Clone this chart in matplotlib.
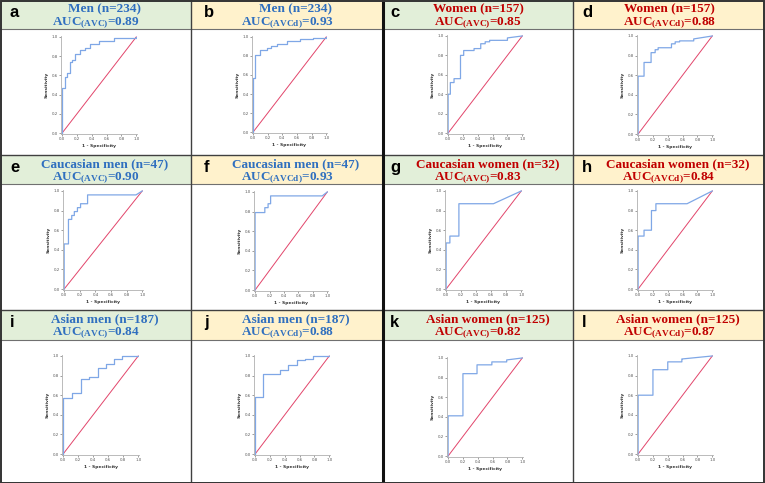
import matplotlib
matplotlib.use('Agg')
import matplotlib.pyplot as plt
from matplotlib.patches import Rectangle

plt.rcParams['mathtext.fontset'] = 'custom'
plt.rcParams['mathtext.rm'] = 'Liberation Serif'
plt.rcParams['mathtext.bf'] = 'Liberation Serif:bold'
plt.rcParams['mathtext.it'] = 'Liberation Serif:italic'

W, H = 765, 483

# ---------------- data ----------------
letters = list('abcdefghijkl')
titles = ['Men (n=234)', 'Men (n=234)', 'Women (n=157)', 'Women (n=157)',
          'Caucasian men (n=47)', 'Caucasian men (n=47)',
          'Caucasian women (n=32)', 'Caucasian women (n=32)',
          'Asian men (n=187)', 'Asian men (n=187)',
          'Asian women (n=125)', 'Asian women (n=125)']
metrics = ['AVC', 'AVCd'] * 6
aucs = [0.89, 0.93, 0.85, 0.88, 0.90, 0.93, 0.83, 0.84, 0.84, 0.88, 0.82, 0.87]
is_women = [False, False, True, True, False, False, True, True, False, False, True, True]

# ROC step points: at each false-positive rate, sensitivity rises to the given value
fpr_a = [0, 0.035, 0.06, 0.10, 0.13, 0.18, 0.24, 0.31, 0.38, 0.50, 0.70, 1.0]
tpr_a = [0.47, 0.58, 0.63, 0.74, 0.76, 0.82, 0.86, 0.89, 0.93, 0.96, 0.99, 1.0]
fpr_b = [0, 0.027, 0.09, 0.19, 0.24, 0.32, 0.46, 0.64, 0.82, 1.0]
tpr_b = [0.57, 0.81, 0.86, 0.88, 0.90, 0.93, 0.96, 0.98, 0.99, 1.0]
fpr_c = [0, 0.03, 0.08, 0.167, 0.21, 0.35, 0.44, 0.50, 0.56, 0.80]
tpr_c = [0.40, 0.52, 0.56, 0.80, 0.85, 0.87, 0.92, 0.94, 0.955, 0.98]
fpr_d = [0, 0.08, 0.175, 0.23, 0.27, 0.45, 0.50, 0.56, 0.75]
tpr_d = [0.59, 0.73, 0.83, 0.86, 0.88, 0.92, 0.94, 0.95, 0.97]
fpr_e = [0, 0.055, 0.097, 0.13, 0.17, 0.21, 0.30, 0.92]
tpr_e = [0.46, 0.71, 0.75, 0.79, 0.83, 0.87, 0.96, 0.96]
fpr_f = [0, 0.135, 0.18, 0.215, 0.93]
tpr_f = [0.79, 0.84, 0.88, 0.96, 0.96]
fpr_g = [0, 0.05, 0.17, 0.63]
tpr_g = [0.47, 0.54, 0.87, 0.87]
fpr_h = [0, 0.08, 0.18, 0.24, 0.66]
tpr_h = [0.54, 0.60, 0.80, 0.87, 0.87]
fpr_i = [0, 0.12, 0.24, 0.34, 0.46, 0.57, 0.68, 0.78]
tpr_i = [0.57, 0.62, 0.77, 0.79, 0.88, 0.92, 0.97, 1.0]
fpr_j = [0, 0.11, 0.33, 0.45, 0.56, 0.67, 0.78]
tpr_j = [0.58, 0.82, 0.86, 0.91, 0.96, 0.97, 1.0]
fpr_k = [0, 0.20, 0.39, 0.59, 0.79]
tpr_k = [0.41, 0.84, 0.93, 0.96, 0.98]
fpr_l = [0, 0.20, 0.40, 0.59, 0.60]
tpr_l = [0.60, 0.86, 0.94, 0.97, 0.97]

fprs = [fpr_a, fpr_b, fpr_c, fpr_d, fpr_e, fpr_f, fpr_g, fpr_h, fpr_i, fpr_j, fpr_k, fpr_l]
tprs = [tpr_a, tpr_b, tpr_c, tpr_d, tpr_e, tpr_f, tpr_g, tpr_h, tpr_i, tpr_j, tpr_k, tpr_l]
ticks = [0.0, 0.2, 0.4, 0.6, 0.8, 1.0]
tick_labels = ['0.0', '0.2', '0.4', '0.6', '0.8', '1.0']

# ---------------- layout ----------------
col_edges = [0, 191, 383, 573, 765]
head_top = [0, 155, 310]
head_bot = [29, 184, 340]
row_bot = [155, 310, 483]
letter_dx = [10, 13, 7, 9]
title_dx = [9, 9, 0, 0, 9, 9, 10, 9, 9, 9, 10, 9]
# inner ROC axes boxes in pixels (left, right, top, bottom)
boxes = [(61, 137, 36, 134), (252, 327, 36, 133), (447, 523, 35, 134), (637, 713, 35, 135),
         (63, 143, 190, 290), (254, 328, 191, 291), (445, 522, 190, 290), (637, 713, 190, 290),
         (62, 139, 355, 455), (254, 330, 355, 455), (447, 523, 357, 457), (637, 713, 355, 455)]

GREEN = '#e2efd9'
YELLOW = '#fff2cc'
BLUE = '#2f6fbf'
RED = '#c00000'
CURVE = '#7fa7e6'
DIAG = '#e2456b'

fig = plt.figure(figsize=(W / 100, H / 100), dpi=100)
fig.patch.set_facecolor('white')
bg = fig.add_axes([0, 0, 1, 1])
bg.set_xlim(0, W)
bg.set_ylim(H, 0)
bg.axis('off')

for r in range(3):
    for c in range(4):
        x0, x1 = col_edges[c], col_edges[c + 1]
        bg.add_patch(Rectangle((x0, head_top[r]), x1 - x0, head_bot[r] - head_top[r],
                               facecolor=GREEN if c % 2 == 0 else YELLOW, edgecolor='none', zorder=1))
        idx = r * 4 + c
        cx = (x0 + x1) / 2
        col = RED if is_women[idx] else BLUE
        bg.text(cx + title_dx[idx], head_top[r] + 9.5, titles[idx], ha='center', va='center',
                fontsize=9.5, fontweight='bold', family='Liberation Serif', color=col, zorder=3)
        bg.text(cx, head_top[r] + 23,
                'AUC$_{\\mathbf{(' + metrics[idx] + ')}}$=' + f'{aucs[idx]:.2f}',
                ha='center', va='center', fontsize=9.5, fontweight='bold',
                family='Liberation Serif', color=col, zorder=3)
        bg.text(x0 + letter_dx[c], head_top[r] + 17, letters[idx], ha='left', va='baseline',
                fontsize=12, fontweight='bold', family='Liberation Sans', color='black', zorder=3)
    bg.plot([0, W], [head_bot[r], head_bot[r]], color='#707070', lw=0.8, zorder=2)
    bg.plot([0, W], [row_bot[r], row_bot[r]], color='#404040', lw=1.0, zorder=2)

for x in [191, 573]:
    bg.plot([x, x], [0, H], color='#404040', lw=1.0, zorder=2)
bg.plot([383, 383], [0, H], color='#111111', lw=2.2, zorder=2)
bg.add_patch(Rectangle((0.5, 0.5), W - 1, H - 1, facecolor='none', edgecolor='#333333', lw=1.4, zorder=4))


def staircase(f, t):
    xs, ys, cur = [0.0], [0.0], 0.0
    for fi, ti in zip(f, t):
        xs += [fi, fi]
        ys += [cur, ti]
        cur = ti
    xs.append(1.0)
    ys.append(1.0)
    return xs, ys


for idx in range(12):
    l, rgt, t, b = boxes[idx]
    ax = fig.add_axes([l / W, 1 - b / H, (rgt - l) / W, (b - t) / H])
    ax.set_facecolor('white')
    ax.plot([0, 1], [0, 1], color=DIAG, lw=0.7)
    xs, ys = staircase(fprs[idx], tprs[idx])
    ax.plot(xs, ys, color=CURVE, lw=0.9)
    ax.set_xlim(-0.015, 1.01)
    ax.set_ylim(-0.01, 1.01)
    ax.set_xticks(ticks)
    ax.set_xticklabels(tick_labels)
    ax.set_yticks(ticks)
    ax.set_yticklabels(tick_labels)
    ax.tick_params(labelsize=2.8, length=1.2, width=0.4, pad=1.2, colors='#555555')
    for s in ['top', 'right']:
        ax.spines[s].set_visible(False)
    for s in ['left', 'bottom']:
        ax.spines[s].set_color('#b0b0b0')
        ax.spines[s].set_linewidth(0.6)
    ax.set_xlabel('1 - Specificity', fontsize=3.2, labelpad=2, color='#333333', fontweight='bold')
    ax.set_ylabel('Sensitivity', fontsize=3.2, labelpad=2, color='#333333', fontweight='bold')

fig.savefig('out.png', dpi=100, facecolor='white')
